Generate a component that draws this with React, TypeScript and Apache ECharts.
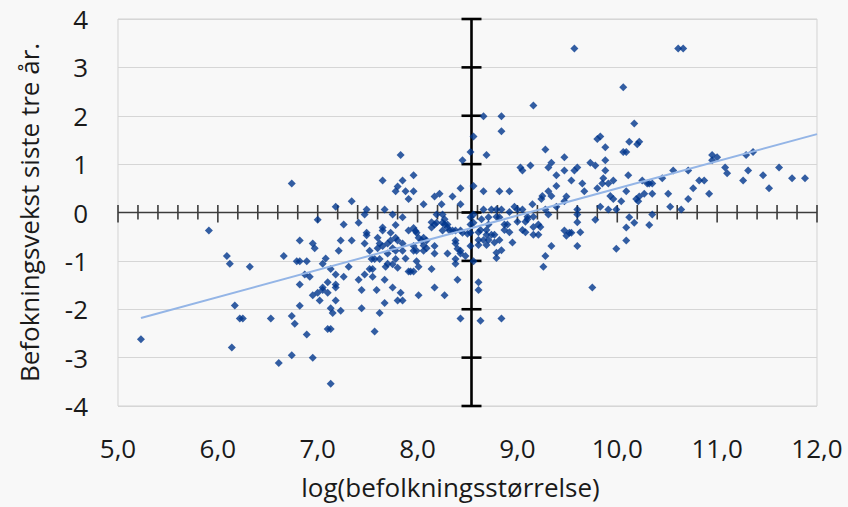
import React, { useEffect, useRef } from "react";
import * as echarts from "echarts";

// log(befolkningsstørrelse)
const LOG_POP = [
  5.23, 5.91, 6.09, 6.12, 6.32, 6.17, 6.22, 6.25, 6.14, 6.53, 6.61, 6.74, 6.66, 6.74, 6.77, 6.74, 6.82, 6.79, 6.82, 6.82,
  6.82, 6.89, 6.87, 6.92, 6.89, 6.95, 6.95, 6.97, 7.0, 6.95, 7.0, 7.02, 7.05, 7.05, 7.1, 7.1, 7.08, 7.05, 7.13, 7.18,
  7.18, 7.18, 7.18, 7.13, 7.15, 7.1, 7.13, 7.13, 7.23, 7.26, 7.21, 7.26, 7.23, 7.34, 7.31, 7.18, 7.34, 7.41, 7.44, 7.44,
  7.47, 7.49, 7.49, 7.52, 7.52, 7.55, 7.55, 7.57, 7.59, 7.62, 7.6, 7.62, 7.65, 7.65, 7.65, 7.41, 7.49, 7.47, 7.54, 7.57,
  7.62, 7.47, 7.65, 7.78, 7.8, 7.85, 7.83, 7.88, 7.96, 7.96, 7.91, 8.06, 8.17, 8.22, 8.24, 7.67, 7.75, 7.85, 7.78, 7.96,
  7.98, 7.91, 7.73, 7.99, 7.67, 7.68, 7.67, 7.7, 7.75, 7.75, 7.78, 7.8, 7.85, 7.83, 7.85, 7.85, 7.88, 7.91, 7.93, 7.96,
  7.78, 7.78, 7.8, 7.75, 7.7, 8.01, 8.01, 7.99, 7.96, 7.96, 7.99, 8.01, 8.04, 8.06, 8.09, 8.06, 8.09, 8.06, 8.14, 8.17,
  8.17, 8.17, 8.14, 8.17, 8.19, 8.25, 7.8, 7.73, 7.7, 7.6, 8.14, 8.19, 8.25, 8.27, 8.27, 8.3, 8.25, 8.32, 8.35, 8.38,
  8.3, 8.43, 8.45, 8.53, 8.53, 8.56, 8.53, 8.38, 8.38, 8.4, 8.43, 8.43, 8.3, 8.38, 8.38, 8.48, 8.4, 8.27, 8.43, 8.5,
  8.53, 8.56, 8.35, 8.43, 8.43, 8.45, 8.53, 8.56, 8.56, 8.61, 8.61, 8.63, 8.84, 8.66, 8.84, 8.84, 8.69, 9.16, 8.66, 8.82,
  8.92, 9.03, 9.05, 9.13, 9.28, 9.31, 9.34, 9.39, 9.39, 9.31, 9.34, 9.25, 9.24, 9.15, 9.28, 8.66, 8.74, 8.79, 8.84, 8.97,
  9.0, 9.05, 8.92, 8.56, 8.64, 8.71, 8.79, 8.82, 8.71, 8.87, 8.9, 8.87, 8.92, 8.61, 8.63, 8.69, 8.69, 8.74, 8.77, 8.61,
  8.66, 8.71, 8.82, 8.77, 8.95, 8.61, 8.69, 8.84, 8.79, 8.79, 9.0, 9.1, 9.1, 9.16, 9.08, 9.05, 9.08, 9.16, 9.21, 9.23,
  9.16, 9.21, 9.31, 9.39, 9.47, 9.28, 9.26, 9.34, 9.57, 9.47, 9.47, 9.57, 9.6, 9.54, 9.65, 9.67, 9.73, 9.78, 9.8, 9.83,
  9.88, 9.88, 9.88, 9.86, 9.91, 9.85, 9.96, 9.8, 9.93, 9.96, 10.04, 10.19, 10.06, 10.17, 10.12, 10.2, 10.22, 10.06, 10.09, 10.11,
  10.09, 10.25, 10.3, 10.32, 10.35, 10.27, 10.22, 10.21, 9.49, 9.6, 9.6, 9.6, 9.83, 9.91, 9.99, 9.78, 10.12, 10.17, 10.32, 10.35,
  10.09, 10.09, 9.99, 9.75, 9.63, 9.6, 9.47, 9.49, 9.52, 9.54, 10.61, 10.66, 10.45, 10.56, 10.71, 10.82, 10.87, 10.76, 10.92, 10.95,
  11.0, 10.95, 11.08, 11.1, 11.29, 11.36, 11.31, 11.26, 11.46, 11.52, 11.62, 11.75, 11.88, 10.51, 10.35, 10.53, 10.64, 10.71,
];

// Befolkningsvekst siste tre år
const GROWTH = [
  -2.62, -0.37, -0.9, -1.06, -1.12, -1.92, -2.19, -2.19, -2.79, -2.19, -3.11, -2.95, -0.9, -2.14, -2.3, 0.6, -0.58, -1.01, -1.01, -1.49,
  -1.93, -1.01, -1.28, -1.33, -2.52, -3.0, -0.64, -0.74, -0.15, -1.71, -1.66, -1.82, -1.6, -1.55, -1.66, -1.44, -0.95, -1.06, -1.17, -1.28,
  -1.49, -1.55, -1.82, -1.98, -2.08, -2.41, -2.41, -3.54, -2.03, -1.33, -0.79, -0.25, -0.58, -0.58, -1.12, 0.12, 0.23, -1.39, -1.6, -1.98,
  -1.28, -0.42, -0.47, -0.79, -1.17, -1.17, -1.33, -2.46, -1.6, -2.08, -0.52, -0.64, -0.69, -0.31, -0.37, -0.21, 0.06, -0.04, -0.96, -0.96,
  -0.96, -0.64, 0.66, 0.44, 0.54, 0.66, 1.19, 0.44, 0.77, 0.44, 0.28, 0.17, 0.33, 0.39, 0.17, 0.06, -0.04, -0.1, -0.26, -0.32,
  -0.38, -0.37, -0.42, -0.42, -1.39, -1.12, -1.87, -0.85, -0.74, -1.55, -0.52, -1.82, -1.82, -1.66, -0.64, -0.79, -0.95, -1.22, -1.22, -1.22,
  -0.79, -0.96, -1.14, -1.07, -1.06, -1.12, -1.71, -1.01, -0.69, -0.79, -0.79, -0.52, -0.58, -0.52, -0.58, -0.68, -0.74, -0.79, -1.17, -1.55,
  -0.85, -0.69, -0.2, -0.25, -0.04, -0.04, -0.58, -0.58, -0.64, -0.74, -0.31, -0.21, -0.21, -0.14, -0.25, -0.31, -0.37, -0.37, -0.37, -0.37,
  -0.25, -0.37, -0.42, -0.42, -0.25, -0.21, -0.1, -0.58, -0.64, -0.75, -0.79, -0.85, -0.85, -0.96, -1.06, -0.9, -1.39, -1.71, -2.19, -0.44,
  -0.69, -1.01, 0.33, 0.5, 0.17, 1.08, 1.25, 1.57, 0.55, -1.44, -1.6, -2.24, -2.19, 1.99, 1.99, 1.68, 1.19, 2.21, 0.44, 0.44,
  0.44, 0.93, 0.87, 0.97, 1.3, 0.93, 1.03, 0.77, 0.55, 0.44, 0.34, 0.34, 0.28, 0.17, 0.06, 0.06, 0.06, 0.06, 0.06, 0.12,
  0.06, 0.06, 0.01, -0.04, -0.14, -0.1, -0.09, -0.1, -0.25, -0.25, -0.25, -0.36, -0.41, -0.41, -0.36, -0.36, -0.46, -0.46, -0.46, -0.57,
  -0.57, -0.57, -0.57, -0.62, -0.62, -0.67, -0.67, -0.78, -0.83, -0.94, -0.19, -0.09, -0.14, -0.09, -0.19, -0.36, -0.41, -0.3, -0.25, -0.3,
  -0.46, -0.46, -0.04, 0.12, 0.23, -0.9, -1.12, -0.69, 3.39, 1.14, 0.87, 0.87, 0.93, 0.66, 0.6, 0.44, 1.03, 0.97, 1.52, 1.57,
  1.35, 1.08, 0.87, 0.71, 0.6, 0.6, 0.66, 0.5, 0.34, 0.28, 0.23, 0.28, 2.59, 1.84, 1.46, 1.41, 1.46, 1.25, 1.25, 0.77,
  0.44, 0.66, 0.6, 0.6, 0.6, 0.39, 0.33, 0.23, 0.33, 0.06, -0.04, -0.2, 0.12, 0.06, 0.06, -0.15, -0.1, -0.21, -0.26, -0.04,
  -0.31, -0.58, -0.75, -1.55, -0.41, -0.69, -0.37, -0.48, -0.42, -0.42, 3.39, 3.39, 0.71, 0.87, 0.87, 0.66, 0.66, 0.5, 0.39, 1.19,
  1.14, 1.08, 0.93, 0.81, 1.19, 1.25, 0.87, 0.66, 0.77, 0.5, 0.93, 0.71, 0.71, 0.39, 0.39, 0.12, 0.06, 0.28,
];

// Linear trend line
const TREND_X = [5.23, 12.0];
const TREND_Y = [-2.18, 1.62];

// Axis ranges / crossing
const X_MIN = 5;
const X_MAX = 12;
const Y_MIN = -4;
const Y_MAX = 4;
const X_MINOR_STEP = 0.2;
const X_CROSS = 8.54; // vertical axis crosses here

const FONT = '"Open Sans", "Noto Sans", sans-serif';
const TEXT_COLOR = "#1a1a1a";
const FONT_SIZE = 26;

export default function App() {
  const ref = useRef<HTMLDivElement>(null);

  useEffect(() => {
    if (!ref.current) return;
    const chart = echarts.init(ref.current, null, { renderer: "svg" });
    const points = LOG_POP.map((x, i) => [x, GROWTH[i]]);
    const trend = TREND_X.map((x, i) => [x, TREND_Y[i]]);

    const renderAxes = (_params: any, api: any) => {
      const children: any[] = [];
      const axisStroke = "#3c3c3c";
      const h0 = api.coord([X_MIN, 0]);
      const h1 = api.coord([X_MAX, 0]);
      children.push({
        type: "line",
        shape: { x1: h0[0], y1: h0[1], x2: h1[0], y2: h1[1] },
        style: { stroke: axisStroke, lineWidth: 1.6 },
      });
      const nSteps = Math.round((X_MAX - X_MIN) / X_MINOR_STEP);
      for (let k = 0; k <= nSteps; k++) {
        const v = X_MIN + k * X_MINOR_STEP;
        const p = api.coord([v, 0]);
        const major = k % 5 === 0;
        children.push({
          type: "line",
          shape: { x1: p[0], y1: p[1] - 7.5, x2: p[0], y2: p[1] + (major ? 10 : 7) },
          style: { stroke: axisStroke, lineWidth: 1.6 },
        });
      }
      const v0 = api.coord([X_CROSS, Y_MIN]);
      const v1 = api.coord([X_CROSS, Y_MAX]);
      children.push({
        type: "line",
        shape: { x1: v0[0], y1: v0[1], x2: v1[0], y2: v1[1] },
        style: { stroke: "#000000", lineWidth: 2.6 },
      });
      for (let y = Y_MIN; y <= Y_MAX; y++) {
        const p = api.coord([X_CROSS, y]);
        children.push({
          type: "line",
          shape: { x1: p[0] - 10, y1: p[1], x2: p[0] + 10, y2: p[1] },
          style: { stroke: "#000000", lineWidth: 2.6 },
        });
      }
      return { type: "group", children };
    };

    chart.setOption({
      animation: false,
      backgroundColor: "#f8f8f8",
      textStyle: { fontFamily: FONT },
      grid: {
        left: 118,
        right: 31,
        top: 19,
        bottom: 101,
        show: true,
        borderColor: "#d3d3d3",
        borderWidth: 1,
        backgroundColor: "transparent",
      },
      xAxis: {
        type: "value",
        min: X_MIN,
        max: X_MAX,
        interval: 1,
        axisLine: { show: false },
        axisTick: { show: false },
        splitLine: { show: false },
        axisLabel: {
          margin: 29,
          fontSize: FONT_SIZE,
          color: TEXT_COLOR,
          fontFamily: FONT,
          formatter: (v: number) => v.toFixed(1).replace(".", ","),
        },
        name: "log(befolkningsstørrelse)",
        nameLocation: "middle",
        nameGap: 68,
        nameTextStyle: {
          fontSize: FONT_SIZE,
          color: TEXT_COLOR,
          fontFamily: FONT,
          padding: [0, 34, 0, 0],
        },
      },
      yAxis: {
        type: "value",
        min: Y_MIN,
        max: Y_MAX,
        interval: 1,
        axisLine: { show: false },
        axisTick: { show: false },
        splitLine: { show: true, lineStyle: { color: "#d6d6d6", width: 1 } },
        axisLabel: {
          margin: 30,
          fontSize: FONT_SIZE,
          color: TEXT_COLOR,
          fontFamily: FONT,
        },
        name: "Befokningsvekst siste tre år.",
        nameLocation: "middle",
        nameGap: 76,
        nameRotate: 90,
        nameTextStyle: { fontSize: FONT_SIZE, color: TEXT_COLOR, fontFamily: FONT },
      },
      series: [
        {
          type: "custom",
          renderItem: renderAxes,
          data: [[X_CROSS, 0]],
          silent: true,
          clip: false,
          z: 1,
        },
        {
          type: "scatter",
          data: points,
          symbol: "diamond",
          symbolSize: 8,
          itemStyle: { color: "#00368c" },
          z: 2,
        },
        {
          type: "line",
          data: trend,
          symbol: "none",
          lineStyle: { color: "#94b5e6", width: 2 },
          z: 3,
        },
      ],
    });

    return () => {
      chart.dispose();
    };
  }, []);

  return (
    <div
      ref={ref}
      style={{ position: "fixed", left: 0, top: 0, width: 848, height: 507 }}
    />
  );
}
